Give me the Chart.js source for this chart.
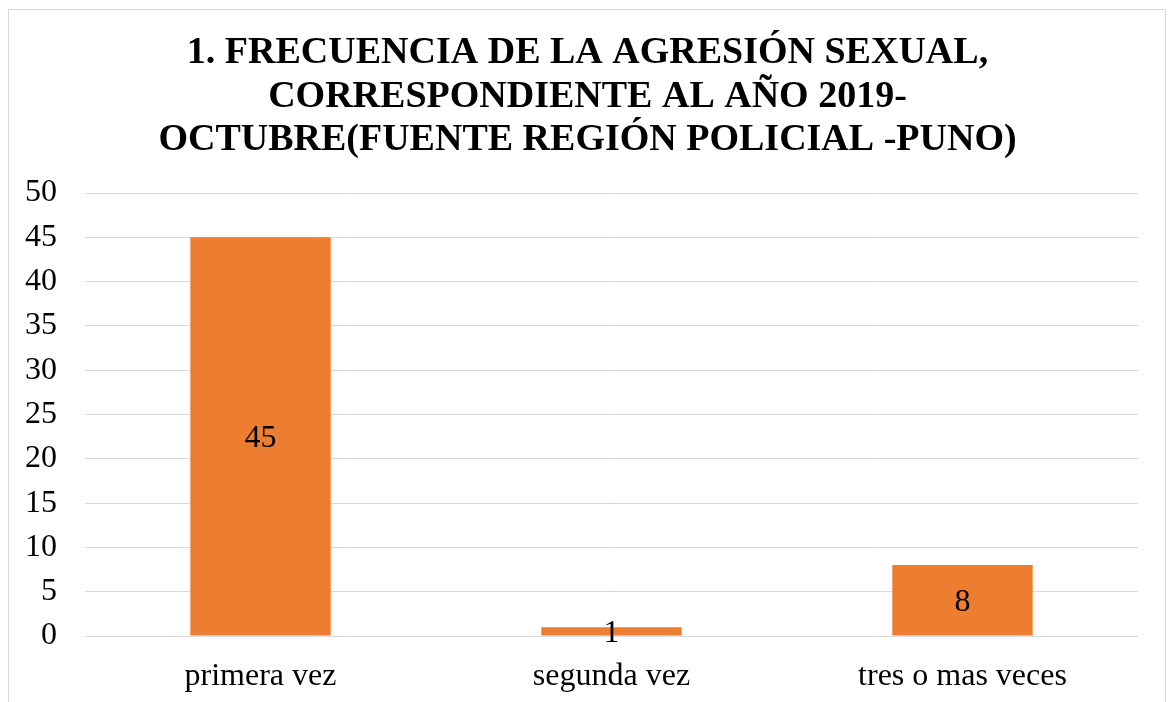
<!DOCTYPE html>
<html>
<head>
<meta charset="utf-8">
<script src="https://cdn.jsdelivr.net/npm/chart.js@4"></script>
<style>
html,body{margin:0;padding:0;background:#fff;}
#wrap{width:1169px;height:702px;position:relative;}
</style>
</head>
<body>
<div id="wrap"><canvas id="c" width="1169" height="702"></canvas></div>
<script>
const categories = ["primera vez", "segunda vez", "tres o mas veces"];
const values = [45, 1, 8];
const titleLines = ["1. FRECUENCIA DE LA AGRESIÓN SEXUAL,", "CORRESPONDIENTE AL AÑO 2019-", "OCTUBRE(FUENTE REGIÓN POLICIAL -PUNO)"];
const yMin = 0, yMax = 50, yStep = 5;

const FONT = "'Liberation Serif', 'Times New Roman', serif";

const borderPlugin = {
  id: 'frame',
  beforeDraw(chart) {
    const ctx = chart.ctx;
    ctx.save();
    ctx.fillStyle = '#fff';
    ctx.fillRect(0, 0, chart.width, chart.height);
    ctx.strokeStyle = '#d9d9d9';
    ctx.lineWidth = 1;
    ctx.strokeRect(8.5, 9.5, 1157, 800);
    ctx.restore();
  }
};

const titlePlugin = {
  id: 'centeredTitle',
  afterDraw(chart) {
    const ctx = chart.ctx;
    ctx.save();
    ctx.font = "bold 38px " + FONT;
    ctx.fillStyle = '#000';
    ctx.textAlign = 'center';
    ctx.textBaseline = 'alphabetic';
    const cx = chart.width / 2 + 3;
    titleLines.forEach((line, i) => {
      ctx.fillText(line, cx, 63 + i * 43.5);
    });
    ctx.restore();
  }
};

const labelPlugin = {
  id: 'barLabels',
  afterDatasetsDraw(chart) {
    const ctx = chart.ctx;
    const meta = chart.getDatasetMeta(0);
    ctx.save();
    ctx.font = "32px " + FONT;
    ctx.fillStyle = '#000';
    ctx.textAlign = 'center';
    ctx.textBaseline = 'middle';
    meta.data.forEach((bar, i) => {
      const v = chart.data.datasets[0].data[i];
      const y = (bar.y + bar.base) / 2;
      ctx.fillText(String(v), bar.x, y + 2);
    });
    ctx.restore();
  }
};

new Chart(document.getElementById('c'), {
  type: 'bar',
  data: {
    labels: categories,
    datasets: [{
      data: values,
      backgroundColor: '#ED7D31',
      borderWidth: 0,
      categoryPercentage: 1.0,
      barPercentage: 0.4
    }]
  },
  options: {
    responsive: false,
    animation: false,
    devicePixelRatio: 1,
    layout: { padding: { left: 0, right: 31, top: 193, bottom: 0 } },
    plugins: {
      legend: { display: false },
      tooltip: { enabled: false },
      title: { display: false }
    },
    scales: {
      x: {
        grid: { display: false, drawTicks: false },
        border: { display: false },
        ticks: { color: '#000', font: { family: FONT, size: 32 }, padding: 21 },
        afterFit(scale) { scale.height = 66; }
      },
      y: {
        min: yMin, max: yMax,
        grid: { color: '#d9d9d9', lineWidth: 1, drawTicks: false },
        border: { display: false },
        ticks: { stepSize: yStep, color: '#000', font: { family: FONT, size: 32 }, padding: 28 },
        afterFit(scale) { scale.width = 85; }
      }
    }
  },
  plugins: [borderPlugin, titlePlugin, labelPlugin]
});
</script>
</body>
</html>
